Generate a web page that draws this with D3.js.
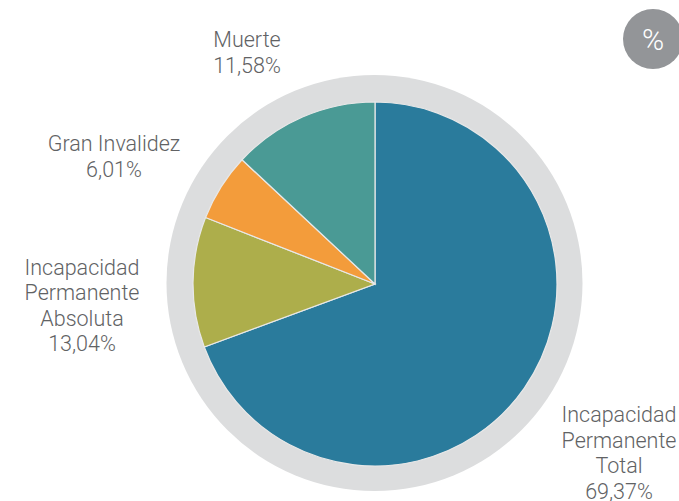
<!DOCTYPE html>
<html>
<head>
<meta charset="utf-8">
<script src="https://cdn.jsdelivr.net/npm/d3@7"></script>
<style>
html, body { margin: 0; padding: 0; background: #fff; }
text { font-family: Roboto, sans-serif; font-weight: 300; font-size: 21.5px; fill: #616264; }
</style>
</head>
<body>
<div id="chart-area"></div>
<script>
// slices clockwise from 12 o'clock
var categories = ["Incapacidad Permanente Total", "Incapacidad Permanente Absoluta", "Gran Invalidez", "Muerte"];
var values = [69.37, 11.58, 6.01, 13.04];
var colors = ["#2a7b9c", "#adae4b", "#f39c3b", "#4a9a95"];

// the labels in the picture, each line on its own
var labelLines = [
    ["Incapacidad", "Permanente", "Total", "69,37%"],
    ["Incapacidad", "Permanente", "Absoluta", "13,04%"],
    ["Gran Invalidez", "6,01%"],
    ["Muerte", "11,58%"]
];
var labelPos = [[619, 422], [82, 274.5], [114, 151], [247, 47]];

var width = 679, height = 501;
var cx = 375, cy = 284, radius = 182, ringRadius = 208;

var svg = d3.select("#chart-area").append("svg")
    .attr("width", width)
    .attr("height", height)
    .style("display", "block");

// grey ring behind the pie
svg.append("circle")
    .attr("cx", cx - 0.5)
    .attr("cy", cy - 1)
    .attr("r", ringRadius)
    .attr("fill", "#dcddde");

var g = svg.append("g")
    .attr("transform", "translate(" + cx + ", " + cy + ")");

var pie = d3.pie().sort(null);
var arc = d3.arc().innerRadius(0).outerRadius(radius);

g.selectAll("path")
    .data(pie(values))
    .enter().append("path")
    .attr("d", arc)
    .attr("fill", function(d, i){ return colors[i]; })
    .attr("stroke", "#e8e8e8")
    .attr("stroke-width", 1.2);

// labels
var labels = svg.selectAll(".label")
    .data(labelLines)
    .enter().append("text")
    .attr("class", "label")
    .attr("text-anchor", "middle")
    .attr("transform", function(d, i){
        return "translate(" + labelPos[i][0] + ", " + labelPos[i][1] + ")";
    });

labels.selectAll("tspan")
    .data(function(d){ return d; })
    .enter().append("tspan")
    .attr("x", 0)
    .attr("y", function(d, i){ return i * 25.6; })
    .text(function(d){ return d; });

// percent badge
svg.append("circle")
    .attr("cx", 653)
    .attr("cy", 39)
    .attr("r", 30)
    .attr("fill", "#939598");

svg.append("text")
    .attr("x", 653)
    .attr("y", 50)
    .attr("text-anchor", "middle")
    .style("font-size", "30px")
    .style("fill", "#fff")
    .text("%");
</script>
</body>
</html>
